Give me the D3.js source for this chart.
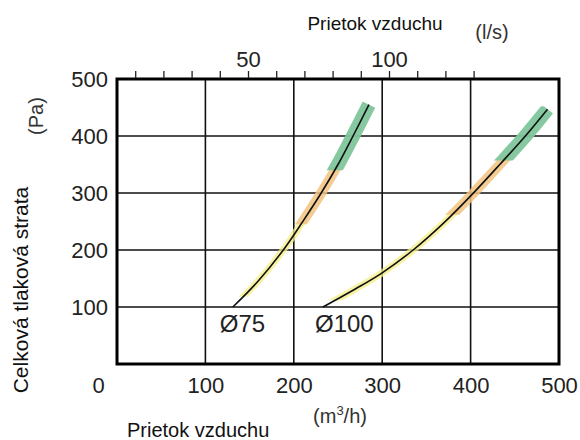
<!DOCTYPE html>
<html>
<head>
<meta charset="utf-8">
<script src="https://cdn.jsdelivr.net/npm/d3@7"></script>
<style>
  html, body { margin: 0; padding: 0; background: #fff; }
  svg { display: block; }
  text { font-family: "Liberation Sans", Arial, sans-serif; }
</style>
</head>
<body>
<svg id="chart" width="580" height="440"></svg>
<script>
// ---- data ----
const seriesNames = ["Ø75", "Ø100"];
const d75Flow = [131, 160, 190, 211, 231, 250, 267, 285];           // m3/h
const d75Press = [100, 146, 204, 252, 300, 350, 400, 455];          // Pa
const d100Flow = [233, 270, 300, 335, 370, 402, 433, 462, 487];     // m3/h
const d100Press = [100, 132, 160, 200, 248, 298, 350, 400, 447];    // Pa
// pressure ranges of the coloured zones [from, to] : yellow, orange, green
const d75Zones = [[118, 245], [245, 340], [340, 455]];
const d100Zones = [[112, 262], [262, 357], [357, 447]];
const xTicks = [0, 100, 200, 300, 400, 500];
const yTicks = [100, 200, 300, 400, 500];
const topTicks = [10, 20, 30, 40, 50, 60, 70, 80, 90, 100, 110, 120, 130];
const topLabels = [50, 100];

// ---- layout ----
const svg = d3.select("#chart");
const L = 117, R = 559, T = 79, B = 364;
const x = d3.scaleLinear().domain([0, 500]).range([L, R]);
const y = d3.scaleLinear().domain([0, 500]).range([B, T]);
const xTop = d3.scaleLinear().domain([0, 50]).range([107, 248]);

svg.append("rect").attr("width", 580).attr("height", 440).attr("fill", "#fff");

// grid lines
const grid = svg.append("g");
grid.selectAll("line.v").data(xTicks.filter(d => d > 0 && d < 500)).join("line")
  .attr("x1", d => x(d)).attr("x2", d => x(d)).attr("y1", T).attr("y2", B)
  .attr("stroke", "#111").attr("stroke-width", 1.6);
grid.selectAll("line.h").data(yTicks.filter(d => d < 500)).join("line")
  .attr("y1", d => y(d)).attr("y2", d => y(d)).attr("x1", L).attr("x2", R)
  .attr("stroke", "#111").attr("stroke-width", 1.6);

// series
const series = [
  { name: seriesNames[0], pts: d75Flow.map((f, i) => [f, d75Press[i]]), zones: d75Zones, labelDx: -13 },
  { name: seriesNames[1], pts: d100Flow.map((f, i) => [f, d100Press[i]]), zones: d100Zones, labelDx: -8 }
];
const zoneStyle = [
  { color: "#f6ef86", width: 7, opacity: 0.75 },
  { color: "#f2c27e", width: 10, opacity: 0.85 },
  { color: "#7fc69c", width: 14, opacity: 0.95 }
];
const line = d3.line().x(d => x(d[0])).y(d => y(d[1])).curve(d3.curveCatmullRom.alpha(0.5));
const defs = svg.append("defs");

series.forEach((s, si) => {
  s.zones.forEach((z, zi) => {
    const id = `clip-${si}-${zi}`;
    defs.append("clipPath").attr("id", id).append("rect")
      .attr("x", 0).attr("width", 580)
      .attr("y", y(z[1]) - 3).attr("height", y(z[0]) - y(z[1]) + 3);
    svg.append("path").datum(s.pts)
      .attr("d", line)
      .attr("fill", "none")
      .attr("stroke", zoneStyle[zi].color)
      .attr("stroke-width", zoneStyle[zi].width)
      .attr("stroke-opacity", zoneStyle[zi].opacity)
      .attr("stroke-linecap", "butt")
      .attr("clip-path", `url(#${id})`);
  });
  svg.append("path").datum(s.pts)
    .attr("d", line)
    .attr("fill", "none")
    .attr("stroke", "#111")
    .attr("stroke-width", 1.6);
  svg.append("text")
    .attr("x", x(s.pts[0][0]) + s.labelDx)
    .attr("y", 332)
    .attr("font-size", 24)
    .attr("fill", "#222")
    .text(s.name);
});

// frame
svg.append("rect").attr("x", L).attr("y", T).attr("width", R - L).attr("height", B - T)
  .attr("fill", "none").attr("stroke", "#000").attr("stroke-width", 3);

// top axis (l/s)
const topAxis = d3.axisTop(xTop).tickValues(topTicks).tickSize(7).tickFormat(d => topLabels.includes(d) ? d : "");
const gTop = svg.append("g").attr("transform", `translate(0,${T - 1})`).call(topAxis);
gTop.select(".domain").remove();
gTop.selectAll(".tick line").attr("stroke", "#222").attr("stroke-width", 1.3);
gTop.selectAll(".tick text").attr("font-size", 22).attr("fill", "#222")
  .attr("font-family", "Liberation Sans, Arial, sans-serif").attr("dy", 0).attr("y", -11);

// left axis labels
const leftAxis = d3.axisLeft(y).tickValues(yTicks).tickSize(0).tickPadding(9);
const gLeft = svg.append("g").attr("transform", `translate(${L},0)`).call(leftAxis);
gLeft.select(".domain").remove();
gLeft.selectAll(".tick text").attr("font-size", 22).attr("fill", "#222")
  .attr("font-family", "Liberation Sans, Arial, sans-serif").attr("dy", "0.36em");

// bottom axis labels
const bottomAxis = d3.axisBottom(x).tickValues(xTicks).tickSize(0).tickPadding(0);
const gBot = svg.append("g").attr("transform", `translate(0,${B})`).call(bottomAxis);
gBot.select(".domain").remove();
gBot.selectAll(".tick text").attr("font-size", 22).attr("fill", "#222")
  .attr("font-family", "Liberation Sans, Arial, sans-serif").attr("y", 29).attr("dy", 0)
  .attr("dx", d => d === 0 ? -19 : 0);

// titles
svg.append("text").attr("x", 375).attr("y", 30).attr("text-anchor", "middle")
  .attr("font-size", 19).attr("fill", "#111").text("Prietok vzduchu");
svg.append("text").attr("x", 492).attr("y", 39).attr("text-anchor", "middle")
  .attr("font-size", 20).attr("fill", "#333").text("(l/s)");
svg.append("text").attr("x", 127).attr("y", 437).attr("text-anchor", "start")
  .attr("font-size", 20).attr("fill", "#111").text("Prietok vzduchu");
const m3 = svg.append("text").attr("x", 340).attr("y", 423).attr("text-anchor", "middle")
  .attr("font-size", 20).attr("fill", "#333");
m3.append("tspan").text("(m");
m3.append("tspan").attr("font-size", 13).attr("dy", -8).text("3");
m3.append("tspan").attr("dy", 8).text("/h)");
svg.append("text").attr("transform", "translate(28,290) rotate(-90)").attr("text-anchor", "middle")
  .attr("font-size", 21).attr("fill", "#111").text("Celková tlaková strata");
svg.append("text").attr("transform", "translate(43,116) rotate(-90)").attr("text-anchor", "middle")
  .attr("font-size", 20).attr("fill", "#333").text("(Pa)");
</script>
</body>
</html>
